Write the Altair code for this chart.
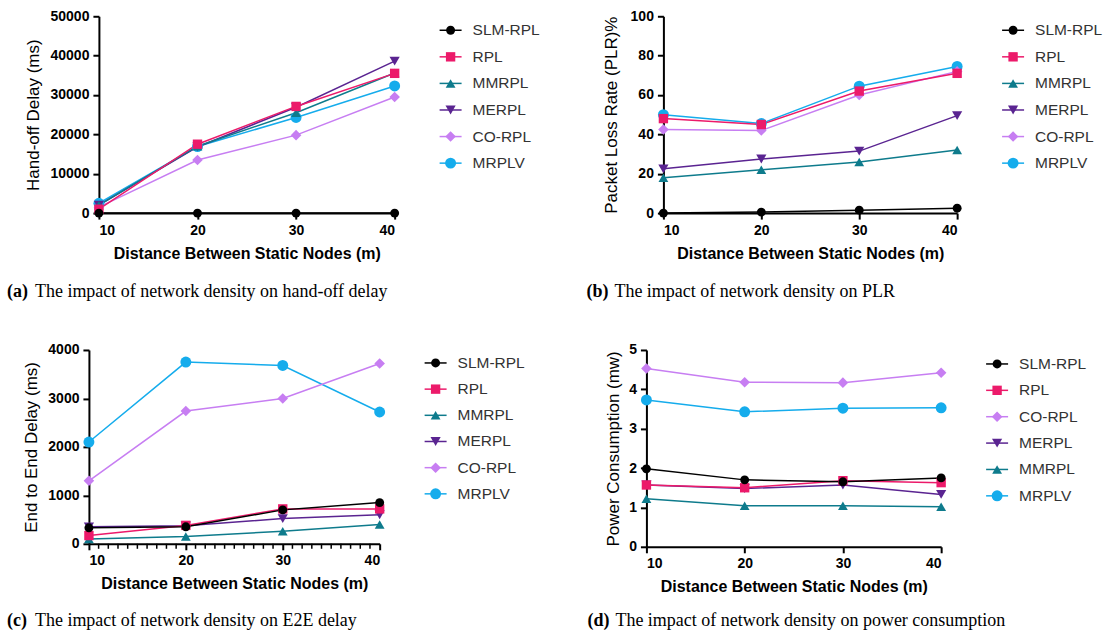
import altair as alt
import pandas as pd

# x positions shared by every panel (distance between static nodes, m)
distance = [10, 20, 30, 40]
# unit minor ticks on the E2E delay x axis
minor_distance = [d for d in range(11, 40) if d % 10 != 0]

legend_order = ["SLM-RPL", "RPL", "MMRPL", "MERPL", "CO-RPL", "MRPLV"]
legend_order_power = ["SLM-RPL", "RPL", "CO-RPL", "MERPL", "MMRPL", "MRPLV"]

# (a) hand-off delay, ms
handoff_delay = {
    "SLM-RPL": [0, 0, 0, 0],
    "RPL": [1000, 17500, 27100, 35500],
    "MMRPL": [2000, 17000, 25500, 35600],
    "MERPL": [2000, 16800, 26900, 38600],
    "CO-RPL": [1500, 13500, 19800, 29500],
    "MRPLV": [2500, 16900, 24300, 32300],
}

# (b) packet loss rate, %
packet_loss = {
    "SLM-RPL": [0, 0.5, 1.5, 2.5],
    "RPL": [48, 45, 62, 71],
    "MMRPL": [18, 22, 26, 32],
    "MERPL": [22.5, 27.5, 31.5, 49.5],
    "CO-RPL": [42.5, 42, 60, 72],
    "MRPLV": [50, 45.5, 64.5, 74.5],
}

# (c) end-to-end delay, ms
e2e_delay = {
    "SLM-RPL": [330, 350, 700, 850],
    "RPL": [170, 380, 720, 720],
    "MMRPL": [100, 150, 260, 400],
    "MERPL": [350, 370, 520, 600],
    "CO-RPL": [1300, 2740, 3000, 3720],
    "MRPLV": [2100, 3750, 3680, 2720],
}

# (d) power consumption, mW
power = {
    "SLM-RPL": [1.98, 1.70, 1.65, 1.75],
    "RPL": [1.57, 1.50, 1.68, 1.63],
    "MMRPL": [1.22, 1.04, 1.04, 1.02],
    "MERPL": [1.57, 1.48, 1.57, 1.33],
    "CO-RPL": [4.53, 4.18, 4.17, 4.42],
    "MRPLV": [3.73, 3.43, 3.52, 3.53],
}

# marker styling per protocol
colors = {
    "SLM-RPL": "#000000",
    "RPL": "#EC1A6A",
    "MMRPL": "#0E7B8C",
    "MERPL": "#5A2491",
    "CO-RPL": "#C77EF2",
    "MRPLV": "#15ACEC",
}
shapes = {
    "SLM-RPL": "circle",
    "RPL": "square",
    "MMRPL": "triangle-up",
    "MERPL": "triangle-down",
    "CO-RPL": "diamond",
    "MRPLV": "circle",
}
sizes = {
    "SLM-RPL": 80,
    "RPL": 120,
    "MMRPL": 100,
    "MERPL": 100,
    "CO-RPL": 64,
    "MRPLV": 144,
}

SANS = "Liberation Sans"
SERIF = "Liberation Serif"
X_TITLE = "Distance Between Static Nodes (m)"


def style_encodings(order, scale_size=1.0):
    color = alt.Color("series:N", scale=alt.Scale(domain=order, range=[colors[s] for s in order]), legend=None)
    shape = alt.Shape("series:N", scale=alt.Scale(domain=order, range=[shapes[s] for s in order]), legend=None)
    size = alt.Size("series:N", scale=alt.Scale(domain=order, range=[sizes[s] * scale_size for s in order]), legend=None)
    return color, shape, size


def panel(values, order, y_title, y_max, y_step, width, height, tag, caption, cap_x, cap_y, title_pad, minor=False):
    # draw later series first so the first legend entries sit on top
    draw_order = list(reversed(order))
    rows = []
    for s in draw_order:
        for d, v in zip(distance, values[s]):
            rows.append({"series": s, "distance": d, "value": v})
    df = pd.DataFrame(rows)

    x_scale = alt.Scale(domain=[10, 40], nice=False, zero=False)
    x = alt.X(
        "distance:Q", scale=x_scale,
        axis=alt.Axis(values=distance, title=X_TITLE, titleFontWeight="bold",
                      titleFontSize=16, titlePadding=8, format="d"),
    )
    y = alt.Y(
        "value:Q",
        scale=alt.Scale(domain=[0, y_max], nice=False),
        axis=alt.Axis(values=list(range(0, y_max + 1, y_step)), format="d", title=y_title,
                      titleFontWeight="normal", titleFontSize=17, titlePadding=title_pad),
    )
    color, shape, size = style_encodings(order)

    lines = alt.Chart(df).mark_line(strokeWidth=1.5).encode(x=x, y=y, color=color)
    points = alt.Chart(df).mark_point(filled=True, opacity=1).encode(
        x=x, y=y, color=color, shape=shape, size=size
    )
    cap_df = pd.DataFrame({"tag": [tag], "caption": [caption]})
    cap_tag = alt.Chart(cap_df).mark_text(
        align="left", baseline="alphabetic", font=SERIF, fontSize=18, fontWeight="bold", color="#000000"
    ).encode(x=alt.value(cap_x), y=alt.value(cap_y), text="tag:N")
    cap_text = alt.Chart(cap_df).mark_text(
        align="left", baseline="alphabetic", font=SERIF, fontSize=18, color="#000000"
    ).encode(x=alt.value(cap_x + 28), y=alt.value(cap_y), text="caption:N")

    layers = [lines, points, cap_tag, cap_text]
    if minor:
        minor_df = pd.DataFrame({"distance": minor_distance})
        minor_ticks = alt.Chart(minor_df).mark_rule(color="#000000", strokeWidth=1.5).encode(
            x=alt.X("distance:Q", scale=x_scale),
            y=alt.value(height), y2=alt.value(height + 5),
        )
        layers.insert(0, minor_ticks)
    return alt.layer(*layers).properties(width=width, height=height)


def legend(order, width, height, y_range):
    df = pd.DataFrame({"series": order})
    y = alt.Y("series:N", scale=alt.Scale(type="point", domain=order, range=y_range, padding=0), axis=None)
    color, shape, size = style_encodings(order, 0.75)
    rule = alt.Chart(df).mark_rule(strokeWidth=1.5).encode(
        x=alt.value(45), x2=alt.value(67), y=y, color=color
    )
    pts = alt.Chart(df).mark_point(filled=True, opacity=1).encode(
        x=alt.value(56), y=y, color=color, shape=shape, size=size
    )
    txt = alt.Chart(df).mark_text(
        align="left", baseline="middle", font=SANS, fontSize=15.5, color="#333333"
    ).encode(x=alt.value(78), y=y, text="series:N")
    return alt.layer(rule, pts, txt).properties(width=width, height=height)


# empty slot that indents the top row relative to the bottom row
spacer = alt.Chart(pd.DataFrame({"series": [""]})).mark_point(opacity=0).encode(
    x=alt.value(0), y=alt.value(0)
).properties(width=10, height=197)

chart_a = panel(handoff_delay, legend_order, "Hand-off Delay (ms)", 50000, 10000, 296, 197,
                "(a)", "The impact of network density on hand-off delay", -92, 281, 8)
chart_b = panel(packet_loss, legend_order, "Packet Loss Rate (PLR)%", 100, 20, 294, 197,
                "(b)", "The impact of network density on PLR", -77, 281, 10)
chart_c = panel(e2e_delay, legend_order, "End to End Delay (ms)", 4000, 1000, 291, 194,
                "(c)", "The impact of network density on E2E delay", -82, 276, 7, minor=True)
chart_d = panel(power, legend_order_power, "Power Consumption (mw)", 5, 1, 295, 197,
                "(d)", "The impact of network density on power consumption", -59, 276, 6)

row_top = alt.hconcat(
    spacer, chart_a, legend(legend_order, 269, 197, [14, 147]),
    chart_b, legend(legend_order, 140, 197, [14, 147]),
    spacing=0, bounds="flush",
)
row_bottom = alt.hconcat(
    chart_c, legend(legend_order, 267, 194, [13, 144]),
    chart_d, legend(legend_order_power, 140, 197, [14, 146]),
    spacing=0, bounds="flush",
)

chart = alt.vconcat(row_top, row_bottom, spacing=42, bounds="full").properties(
    padding={"left": 7, "top": 9, "right": 5, "bottom": 5}
).configure_view(stroke=None).configure_axis(
    domainColor="#000000", domainWidth=2, tickColor="#000000", tickWidth=2, tickSize=6,
    labelFont=SANS, labelFontSize=14, labelFontWeight="bold", labelColor="#000000", labelPadding=4,
    titleFont=SANS, titleColor="#000000", grid=False,
)

chart.save("out.html", embed_options={"renderer": "svg", "actions": False})
